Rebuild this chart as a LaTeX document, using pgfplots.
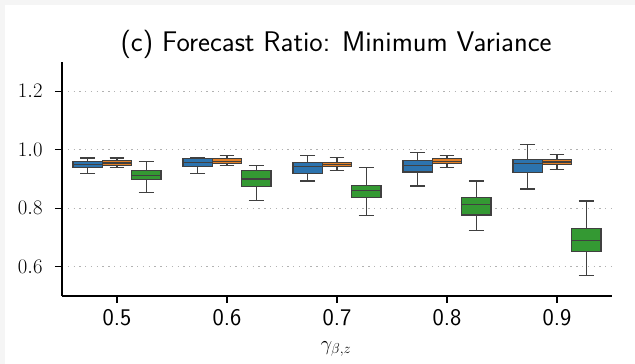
\documentclass[border=0pt]{standalone}
\usepackage{pgfplots}
\pgfplotsset{compat=1.18}
\usepgfplotslibrary{statistics}
\definecolor{sbblue}{HTML}{2C73AE}
\definecolor{sborange}{HTML}{E38026}
\definecolor{sbgreen}{HTML}{349933}
\definecolor{edgegray}{HTML}{404040}
\begin{document}
\begin{tikzpicture}
\useasboundingbox (0,0) rectangle (635bp,364bp);
\fill[black!4] (0,0) rectangle (635bp,364bp);
\fill[white] (5bp,0) rectangle (635bp,359bp);
\begin{axis}[
  at={(62bp,68bp)}, anchor=south west,
  width=550bp, height=234bp, scale only axis,
  xmin=-0.5, xmax=4.5, ymin=0.5, ymax=1.3,
  axis x line*=bottom, axis y line*=left,
  axis line style={black, line width=1.5pt},
  xtick={0,1,2,3,4},
  xticklabels={0.5,0.6,0.7,0.8,0.9},
  ytick={0.6,0.8,1.0,1.2},
  yticklabel style={/pgf/number format/fixed, /pgf/number format/fixed zerofill, /pgf/number format/precision=1, font=\fontsize{20.5}{24}\selectfont, xshift=-9bp},
  tick align=outside, major tick length=7bp,
  tick style={black, line width=1.2pt},
  xticklabel style={font=\sffamily\fontsize{24}{28}\selectfont, yshift=-3bp},
  ymajorgrids, grid style={dash pattern=on 1.3pt off 4.5pt, gray!60, line width=1.3pt},
  boxplot/draw direction=y,
  boxplot/box extend=0.265,
  boxplot/whisker extend=0.135,
  clip=false,
]
% group 0
\addplot[draw=edgegray, line width=1.2pt, fill=sbblue, boxplot prepared={draw position=-0.267, lower whisker=0.918, lower quartile=0.938, median=0.949, upper quartile=0.961, upper whisker=0.972}] coordinates {};
\addplot[draw=edgegray, line width=1.2pt, fill=sborange, boxplot prepared={draw position=0, lower whisker=0.938, lower quartile=0.947, median=0.955, upper quartile=0.963, upper whisker=0.972}] coordinates {};
\addplot[draw=edgegray, line width=1.2pt, fill=sbgreen, boxplot prepared={draw position=0.267, lower whisker=0.855, lower quartile=0.897, median=0.911, upper quartile=0.929, upper whisker=0.961}] coordinates {};
% group 1
\addplot[draw=edgegray, line width=1.2pt, fill=sbblue, boxplot prepared={draw position=0.733, lower whisker=0.918, lower quartile=0.943, median=0.957, upper quartile=0.969, upper whisker=0.973}] coordinates {};
\addplot[draw=edgegray, line width=1.2pt, fill=sborange, boxplot prepared={draw position=1, lower whisker=0.945, lower quartile=0.953, median=0.961, upper quartile=0.969, upper whisker=0.980}] coordinates {};
\addplot[draw=edgegray, line width=1.2pt, fill=sbgreen, boxplot prepared={draw position=1.267, lower whisker=0.826, lower quartile=0.875, median=0.900, upper quartile=0.928, upper whisker=0.945}] coordinates {};
% group 2
\addplot[draw=edgegray, line width=1.2pt, fill=sbblue, boxplot prepared={draw position=1.733, lower whisker=0.893, lower quartile=0.920, median=0.944, upper quartile=0.957, upper whisker=0.979}] coordinates {};
\addplot[draw=edgegray, line width=1.2pt, fill=sborange, boxplot prepared={draw position=2, lower whisker=0.928, lower quartile=0.943, median=0.950, upper quartile=0.957, upper whisker=0.973}] coordinates {};
\addplot[draw=edgegray, line width=1.2pt, fill=sbgreen, boxplot prepared={draw position=2.267, lower whisker=0.775, lower quartile=0.836, median=0.861, upper quartile=0.879, upper whisker=0.939}] coordinates {};
% group 3
\addplot[draw=edgegray, line width=1.2pt, fill=sbblue, boxplot prepared={draw position=2.733, lower whisker=0.876, lower quartile=0.924, median=0.947, upper quartile=0.964, upper whisker=0.991}] coordinates {};
\addplot[draw=edgegray, line width=1.2pt, fill=sborange, boxplot prepared={draw position=3, lower whisker=0.938, lower quartile=0.954, median=0.961, upper quartile=0.969, upper whisker=0.979}] coordinates {};
\addplot[draw=edgegray, line width=1.2pt, fill=sbgreen, boxplot prepared={draw position=3.267, lower whisker=0.723, lower quartile=0.777, median=0.814, upper quartile=0.837, upper whisker=0.893}] coordinates {};
% group 4
\addplot[draw=edgegray, line width=1.2pt, fill=sbblue, boxplot prepared={draw position=3.733, lower whisker=0.866, lower quartile=0.921, median=0.952, upper quartile=0.966, upper whisker=1.018}] coordinates {};
\addplot[draw=edgegray, line width=1.2pt, fill=sborange, boxplot prepared={draw position=4, lower whisker=0.933, lower quartile=0.949, median=0.958, upper quartile=0.966, upper whisker=0.984}] coordinates {};
\addplot[draw=edgegray, line width=1.2pt, fill=sbgreen, boxplot prepared={draw position=4.267, lower whisker=0.571, lower quartile=0.653, median=0.691, upper quartile=0.731, upper whisker=0.825}] coordinates {};
\end{axis}
\node at (336bp,320bp) {\sffamily\fontsize{28.5}{32}\selectfont (c) Forecast Ratio: Minimum Variance};
\node at (336bp,15bp) {\fontsize{21}{25}\selectfont $\gamma_{\beta,z}$};
\end{tikzpicture}
\end{document}
